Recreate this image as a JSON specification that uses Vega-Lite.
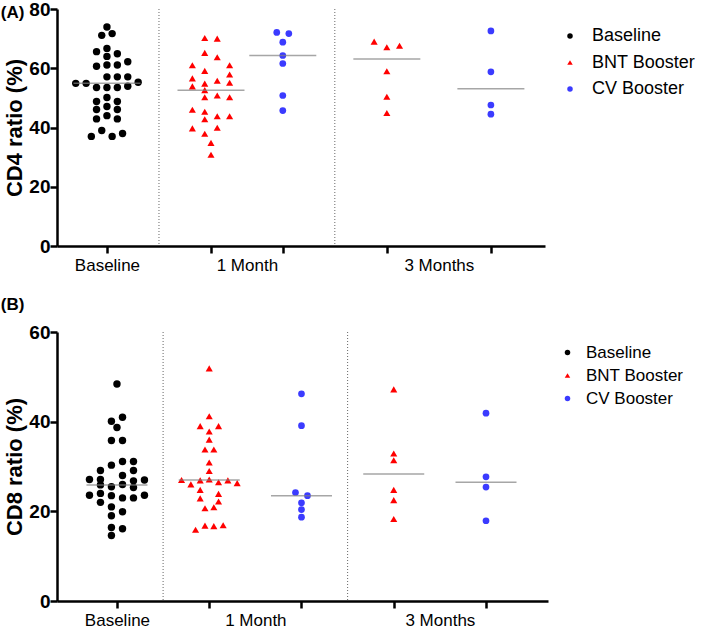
{
  "$schema": "https://vega.github.io/schema/vega-lite/v6.json",
  "padding": {"left": 0, "top": 0, "right": 0, "bottom": 0},
  "background": "white",
  "config": {
    "font": "Liberation Sans",
    "view": {"stroke": null},
    "axis": {
      "domainColor": "black", "domainWidth": 2.5, "tickColor": "black", "tickWidth": 2.5, "tickSize": 7,
      "labelColor": "black", "titleColor": "black", "grid": false, "labelFontSize": 17
    },
    "axisY": {"labelFontWeight": "bold", "labelFontSize": 19, "titleFontWeight": "bold", "titleFontSize": 22, "labelPadding": 0, "titlePadding": 2},
    "axisX": {"labelPadding": 4, "labelFontWeight": "normal"},
    "legend": {"labelColor": "black", "symbolSize": 30, "labelLimit": 300}
  },
  "resolve": {"legend": {"color": "independent", "shape": "independent"}},
  "spacing": 23,
  "datasets": {
    "pointsA": [
      {"series": "Baseline", "x": 1, "value": 73.9},
      {"series": "Baseline", "x": 0.95, "value": 71.1},
      {"series": "Baseline", "x": 1.05, "value": 71.7},
      {"series": "Baseline", "x": 0.9, "value": 65.6},
      {"series": "Baseline", "x": 1, "value": 66.7},
      {"series": "Baseline", "x": 1.1, "value": 64.9},
      {"series": "Baseline", "x": 1, "value": 64.0},
      {"series": "Baseline", "x": 0.9, "value": 60.7},
      {"series": "Baseline", "x": 1, "value": 61.1},
      {"series": "Baseline", "x": 1.1, "value": 61.1},
      {"series": "Baseline", "x": 1.2, "value": 62.2},
      {"series": "Baseline", "x": 1, "value": 57.1},
      {"series": "Baseline", "x": 1.1, "value": 57.1},
      {"series": "Baseline", "x": 1.2, "value": 57.1},
      {"series": "Baseline", "x": 0.7, "value": 54.9},
      {"series": "Baseline", "x": 0.8, "value": 54.9},
      {"series": "Baseline", "x": 1.3, "value": 55.3},
      {"series": "Baseline", "x": 0.9, "value": 53.5},
      {"series": "Baseline", "x": 1, "value": 53.5},
      {"series": "Baseline", "x": 1.1, "value": 53.5},
      {"series": "Baseline", "x": 1.2, "value": 53.9},
      {"series": "Baseline", "x": 1, "value": 50.1},
      {"series": "Baseline", "x": 0.9, "value": 48.8},
      {"series": "Baseline", "x": 1.1, "value": 48.8},
      {"series": "Baseline", "x": 1, "value": 47.1},
      {"series": "Baseline", "x": 0.9, "value": 46.1},
      {"series": "Baseline", "x": 1.1, "value": 46.1},
      {"series": "Baseline", "x": 1, "value": 44.0},
      {"series": "Baseline", "x": 0.9, "value": 42.9},
      {"series": "Baseline", "x": 1.1, "value": 42.9},
      {"series": "Baseline", "x": 0.95, "value": 39.0},
      {"series": "Baseline", "x": 0.85, "value": 37.0},
      {"series": "Baseline", "x": 1.05, "value": 37.0},
      {"series": "Baseline", "x": 1.15, "value": 38.0},
      {"series": "BNT Booster", "x": 1.94, "value": 70.2},
      {"series": "BNT Booster", "x": 2.06, "value": 70.0},
      {"series": "BNT Booster", "x": 1.94, "value": 65.2},
      {"series": "BNT Booster", "x": 2.06, "value": 63.7},
      {"series": "BNT Booster", "x": 1.821, "value": 61.0},
      {"series": "BNT Booster", "x": 2.179, "value": 61.0},
      {"series": "BNT Booster", "x": 1.94, "value": 59.1},
      {"series": "BNT Booster", "x": 2.179, "value": 57.9},
      {"series": "BNT Booster", "x": 1.821, "value": 56.6},
      {"series": "BNT Booster", "x": 2.06, "value": 55.8},
      {"series": "BNT Booster", "x": 1.94, "value": 54.8},
      {"series": "BNT Booster", "x": 2.179, "value": 55.1},
      {"series": "BNT Booster", "x": 1.821, "value": 53.9},
      {"series": "BNT Booster", "x": 1.94, "value": 52.6},
      {"series": "BNT Booster", "x": 1.94, "value": 50.2},
      {"series": "BNT Booster", "x": 2.06, "value": 50.8},
      {"series": "BNT Booster", "x": 2.179, "value": 50.2},
      {"series": "BNT Booster", "x": 1.821, "value": 46.0},
      {"series": "BNT Booster", "x": 1.94, "value": 45.3},
      {"series": "BNT Booster", "x": 1.94, "value": 42.8},
      {"series": "BNT Booster", "x": 2.06, "value": 43.8},
      {"series": "BNT Booster", "x": 2.179, "value": 43.8},
      {"series": "BNT Booster", "x": 1.821, "value": 39.7},
      {"series": "BNT Booster", "x": 2.06, "value": 39.9},
      {"series": "BNT Booster", "x": 1.94, "value": 37.9},
      {"series": "BNT Booster", "x": 2, "value": 34.8},
      {"series": "BNT Booster", "x": 2, "value": 30.8},
      {"series": "CV Booster", "x": 2.632, "value": 72.1},
      {"series": "CV Booster", "x": 2.748, "value": 71.7},
      {"series": "CV Booster", "x": 2.69, "value": 68.8},
      {"series": "CV Booster", "x": 2.69, "value": 64.3},
      {"series": "CV Booster", "x": 2.69, "value": 61.6},
      {"series": "CV Booster", "x": 2.69, "value": 50.8},
      {"series": "CV Booster", "x": 2.69, "value": 45.7},
      {"series": "BNT Booster", "x": 3.568, "value": 69.0},
      {"series": "BNT Booster", "x": 3.69, "value": 67.1},
      {"series": "BNT Booster", "x": 3.812, "value": 67.6},
      {"series": "BNT Booster", "x": 3.69, "value": 59.0},
      {"series": "BNT Booster", "x": 3.69, "value": 50.4},
      {"series": "BNT Booster", "x": 3.69, "value": 44.9},
      {"series": "CV Booster", "x": 4.69, "value": 72.6},
      {"series": "CV Booster", "x": 4.69, "value": 58.8},
      {"series": "CV Booster", "x": 4.69, "value": 47.6},
      {"series": "CV Booster", "x": 4.69, "value": 44.5}
    ],
    "mediansA": [
      {"x": 1, "value": 54.9},
      {"x": 2, "value": 52.6},
      {"x": 2.69, "value": 64.3},
      {"x": 3.69, "value": 63.1},
      {"x": 4.69, "value": 53.1}
    ],
    "sepA": [{"x": 1.5}, {"x": 3.19}],
    "pointsB": [
      {"series": "Baseline", "x": 1, "value": 48.4},
      {"series": "Baseline", "x": 0.94, "value": 40.1},
      {"series": "Baseline", "x": 1.06, "value": 41.0},
      {"series": "Baseline", "x": 1, "value": 38.7},
      {"series": "Baseline", "x": 0.94, "value": 35.8},
      {"series": "Baseline", "x": 1.06, "value": 35.8},
      {"series": "Baseline", "x": 0.94, "value": 30.3},
      {"series": "Baseline", "x": 1.06, "value": 31.1},
      {"series": "Baseline", "x": 1.179, "value": 31.1},
      {"series": "Baseline", "x": 0.821, "value": 29.1},
      {"series": "Baseline", "x": 1.179, "value": 29.1},
      {"series": "Baseline", "x": 1.06, "value": 28.0},
      {"series": "Baseline", "x": 0.702, "value": 27.1},
      {"series": "Baseline", "x": 0.821, "value": 27.1},
      {"series": "Baseline", "x": 1.179, "value": 26.8},
      {"series": "Baseline", "x": 1.298, "value": 27.0},
      {"series": "Baseline", "x": 0.821, "value": 25.9},
      {"series": "Baseline", "x": 0.94, "value": 25.5},
      {"series": "Baseline", "x": 1.06, "value": 26.0},
      {"series": "Baseline", "x": 1.179, "value": 25.3},
      {"series": "Baseline", "x": 0.702, "value": 23.6},
      {"series": "Baseline", "x": 0.821, "value": 24.0},
      {"series": "Baseline", "x": 0.94, "value": 23.5},
      {"series": "Baseline", "x": 1.06, "value": 23.0},
      {"series": "Baseline", "x": 1.179, "value": 23.0},
      {"series": "Baseline", "x": 1.298, "value": 23.6},
      {"series": "Baseline", "x": 0.821, "value": 22.0},
      {"series": "Baseline", "x": 0.94, "value": 21.0},
      {"series": "Baseline", "x": 1.06, "value": 19.9},
      {"series": "Baseline", "x": 0.94, "value": 19.0},
      {"series": "Baseline", "x": 0.94, "value": 16.4},
      {"series": "Baseline", "x": 1.06, "value": 16.1},
      {"series": "Baseline", "x": 0.94, "value": 14.6},
      {"series": "BNT Booster", "x": 2, "value": 51.9},
      {"series": "BNT Booster", "x": 2, "value": 41.2},
      {"series": "BNT Booster", "x": 1.902, "value": 39.0},
      {"series": "BNT Booster", "x": 2.101, "value": 39.0},
      {"series": "BNT Booster", "x": 2, "value": 37.8},
      {"series": "BNT Booster", "x": 2, "value": 36.0},
      {"series": "BNT Booster", "x": 1.954, "value": 33.8},
      {"series": "BNT Booster", "x": 2.05, "value": 33.8},
      {"series": "BNT Booster", "x": 2, "value": 30.9},
      {"series": "BNT Booster", "x": 2, "value": 29.0},
      {"series": "BNT Booster", "x": 1.7, "value": 27.0},
      {"series": "BNT Booster", "x": 1.902, "value": 26.9},
      {"series": "BNT Booster", "x": 2, "value": 27.1},
      {"series": "BNT Booster", "x": 2.202, "value": 26.9},
      {"series": "BNT Booster", "x": 1.801, "value": 26.0},
      {"series": "BNT Booster", "x": 2.101, "value": 26.5},
      {"series": "BNT Booster", "x": 2.303, "value": 26.3},
      {"series": "BNT Booster", "x": 1.902, "value": 24.8},
      {"series": "BNT Booster", "x": 2.101, "value": 23.9},
      {"series": "BNT Booster", "x": 1.902, "value": 22.9},
      {"series": "BNT Booster", "x": 2.101, "value": 22.2},
      {"series": "BNT Booster", "x": 1.954, "value": 20.7},
      {"series": "BNT Booster", "x": 2.05, "value": 20.9},
      {"series": "BNT Booster", "x": 1.954, "value": 16.8},
      {"series": "BNT Booster", "x": 2.05, "value": 16.7},
      {"series": "BNT Booster", "x": 2.151, "value": 16.9},
      {"series": "BNT Booster", "x": 1.852, "value": 15.9},
      {"series": "CV Booster", "x": 3, "value": 46.2},
      {"series": "CV Booster", "x": 3, "value": 39.1},
      {"series": "CV Booster", "x": 2.935, "value": 24.2},
      {"series": "CV Booster", "x": 3.065, "value": 23.5},
      {"series": "CV Booster", "x": 3, "value": 21.9},
      {"series": "CV Booster", "x": 3, "value": 20.4},
      {"series": "CV Booster", "x": 3, "value": 18.7},
      {"series": "BNT Booster", "x": 4, "value": 47.2},
      {"series": "BNT Booster", "x": 4, "value": 32.9},
      {"series": "BNT Booster", "x": 4, "value": 31.4},
      {"series": "BNT Booster", "x": 4, "value": 24.8},
      {"series": "BNT Booster", "x": 4, "value": 22.5},
      {"series": "BNT Booster", "x": 4, "value": 18.3},
      {"series": "CV Booster", "x": 5, "value": 41.9},
      {"series": "CV Booster", "x": 5, "value": 27.7},
      {"series": "CV Booster", "x": 5, "value": 25.4},
      {"series": "CV Booster", "x": 5, "value": 17.9}
    ],
    "mediansB": [
      {"x": 1, "value": 25.9},
      {"x": 2, "value": 27.0},
      {"x": 3, "value": 23.5},
      {"x": 4, "value": 28.3},
      {"x": 5, "value": 26.5}
    ],
    "sepB": [{"x": 1.5}, {"x": 3.5}]
  },
  "vconcat": [
    {
      "title": {"text": "(A)", "anchor": "start", "frame": "bounds", "fontSize": 17, "fontWeight": "bold", "color": "black", "offset": -22, "dx": -3},
      "width": 488,
      "height": 237,
      "encoding": {
        "x": {
          "field": "x", "type": "quantitative",
          "scale": {"domain": [0.52, 5.21], "nice": false, "zero": false},
          "axis": {
            "title": null,
            "values": [1, 2, 2.345, 2.69, 3.69, 4.19, 4.69],
            "labelExpr": "datum.value == 1 ? 'Baseline' : (abs(datum.value - 2.345) < 0.001 ? '1 Month' : (abs(datum.value - 4.19) < 0.001 ? '3 Months' : ''))",
            "tickOpacity": {"condition": {"test": "abs(datum.value - 2.345) < 0.001 || abs(datum.value - 4.19) < 0.001", "value": 0}, "value": 1},
            "labelOverlap": false, "labelBound": false, "labelFlush": false
          }
        }
      },
      "layer": [
        {
          "data": {"name": "sepA"},
          "mark": {"type": "rule", "strokeDash": [1, 2], "color": "#666666", "strokeWidth": 1},
          "encoding": {}
        },
        {
          "data": {"name": "pointsA"},
          "mark": {"type": "point", "filled": true, "opacity": 1, "strokeWidth": 0},
          "encoding": {
            "y": {"field": "value", "type": "quantitative", "scale": {"domain": [0, 80], "nice": false}, "axis": {"title": "CD4 ratio (%)", "values": [0, 20, 40, 60, 80]}},
            "color": {"field": "series", "type": "nominal", "scale": {"domain": ["Baseline", "BNT Booster", "CV Booster"], "range": ["#000000", "#FF0000", "#3B3BFF"]}, "legend": {"title": null, "orient": "none", "legendX": 504, "legendY": 18, "labelFontSize": 18, "labelOffset": 13, "rowPadding": 8.5}},
            "shape": {"field": "series", "type": "nominal", "scale": {"domain": ["Baseline", "BNT Booster", "CV Booster"], "range": ["circle", "triangle-up", "circle"]}, "legend": {"title": null, "orient": "none", "legendX": 504, "legendY": 18, "labelFontSize": 18, "labelOffset": 13, "rowPadding": 8.5}},
            "size": {"field": "series", "type": "nominal", "scale": {"domain": ["Baseline", "BNT Booster", "CV Booster"], "range": [55, 45, 34]}, "legend": null}
          }
        },
        {
          "data": {"name": "mediansA"},
          "mark": {"type": "tick", "orient": "horizontal", "size": 67, "thickness": 1.5, "color": "#808080"},
          "encoding": {
            "y": {"field": "value", "type": "quantitative"}
          }
        }
      ]
    },
    {
      "title": {"text": "(B)", "anchor": "start", "frame": "bounds", "fontSize": 17, "fontWeight": "bold", "color": "black", "offset": 9, "dx": -3},
      "width": 491,
      "height": 269,
      "encoding": {
        "x": {
          "field": "x", "type": "quantitative",
          "scale": {"domain": [0.35, 5.672], "nice": false, "zero": false},
          "axis": {
            "title": null,
            "values": [1, 2, 2.5, 3, 4, 4.5, 5],
            "labelExpr": "datum.value == 1 ? 'Baseline' : (datum.value == 2.5 ? '1 Month' : (datum.value == 4.5 ? '3 Months' : ''))",
            "tickOpacity": {"condition": {"test": "datum.value == 2.5 || datum.value == 4.5", "value": 0}, "value": 1},
            "labelOverlap": false, "labelBound": false, "labelFlush": false
          }
        }
      },
      "layer": [
        {
          "data": {"name": "sepB"},
          "mark": {"type": "rule", "strokeDash": [1, 2], "color": "#666666", "strokeWidth": 1},
          "encoding": {}
        },
        {
          "data": {"name": "pointsB"},
          "mark": {"type": "point", "filled": true, "opacity": 1, "strokeWidth": 0},
          "encoding": {
            "y": {"field": "value", "type": "quantitative", "scale": {"domain": [0, 60], "nice": false}, "axis": {"title": "CD8 ratio (%)", "values": [0, 20, 40, 60]}},
            "color": {"field": "series", "type": "nominal", "scale": {"domain": ["Baseline", "BNT Booster", "CV Booster"], "range": ["#000000", "#FF3B3B", "#3B3BFF"]}, "legend": {"title": null, "orient": "none", "legendX": 502, "legendY": 12, "rowPadding": 5, "labelFontSize": 17, "labelOffset": 10}},
            "shape": {"field": "series", "type": "nominal", "scale": {"domain": ["Baseline", "BNT Booster", "CV Booster"], "range": ["circle", "triangle-up", "circle"]}, "legend": {"title": null, "orient": "none", "legendX": 502, "legendY": 12, "rowPadding": 5, "labelFontSize": 17, "labelOffset": 10}},
            "size": {"field": "series", "type": "nominal", "scale": {"domain": ["Baseline", "BNT Booster", "CV Booster"], "range": [40, 40, 34]}, "legend": null}
          }
        },
        {
          "data": {"name": "mediansB"},
          "mark": {"type": "tick", "orient": "horizontal", "size": 61, "thickness": 1.5, "color": "#808080"},
          "encoding": {
            "y": {"field": "value", "type": "quantitative"}
          }
        }
      ]
    }
  ]
}
